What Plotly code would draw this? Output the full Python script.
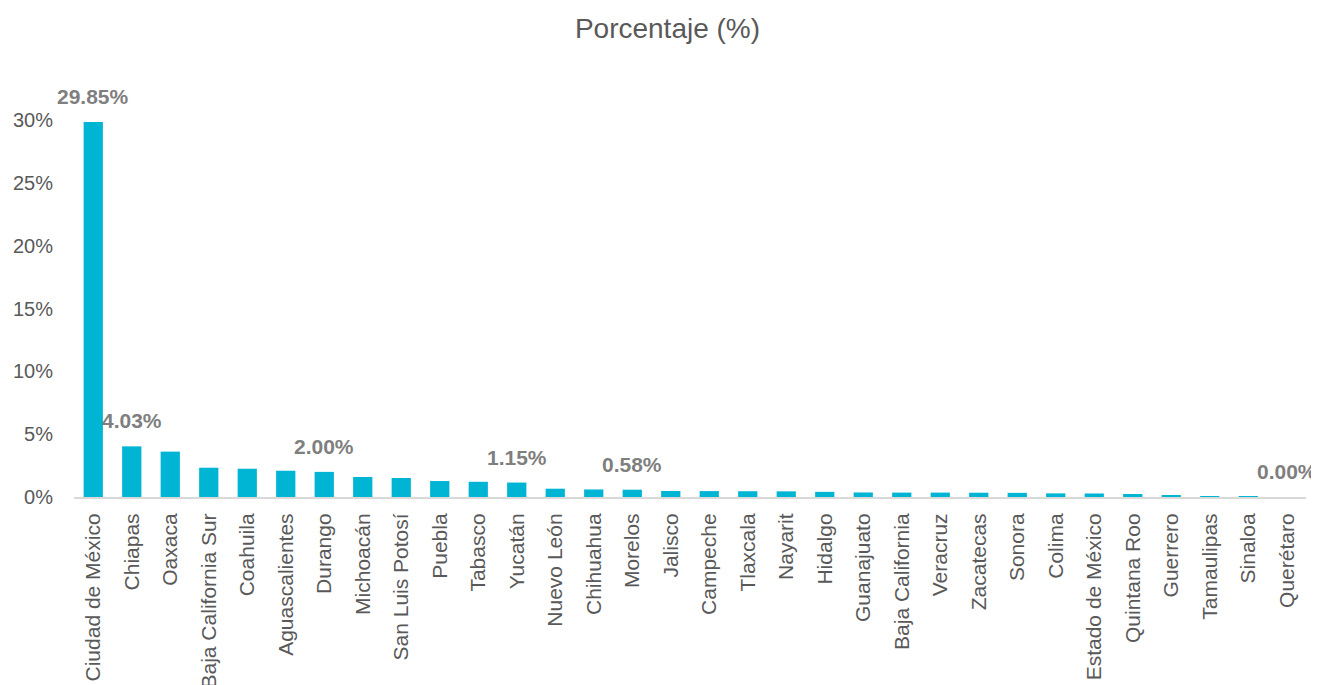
import plotly.graph_objects as go

estados = ["Ciudad de México", "Chiapas", "Oaxaca", "Baja California Sur", "Coahuila",
           "Aguascalientes", "Durango", "Michoacán", "San Luis Potosí", "Puebla",
           "Tabasco", "Yucatán", "Nuevo León", "Chihuahua", "Morelos", "Jalisco",
           "Campeche", "Tlaxcala", "Nayarit", "Hidalgo", "Guanajuato", "Baja California",
           "Veracruz", "Zacatecas", "Sonora", "Colima", "Estado de México", "Quintana Roo",
           "Guerrero", "Tamaulipas", "Sinaloa", "Querétaro"]
porcentaje = [29.85, 4.03, 3.61, 2.33, 2.25, 2.09, 2.00, 1.59, 1.51, 1.27,
              1.21, 1.15, 0.66, 0.60, 0.58, 0.48, 0.47, 0.46, 0.45, 0.41,
              0.36, 0.35, 0.35, 0.34, 0.33, 0.29, 0.28, 0.24, 0.08, 0.04,
              0.03, 0.00]
etiquetados = ["Ciudad de México", "Chiapas", "Durango", "Yucatán", "Morelos", "Querétaro"]
y_ticks = [0, 5, 10, 15, 20, 25, 30]
y_ticklabels = ["0%", "5%", "10%", "15%", "20%", "25%", "30%"]

fig = go.Figure()
fig.add_trace(go.Bar(x=estados, y=porcentaje, marker_color="#00B4D4",
                     marker_line_width=0, hoverinfo="x+y"))

for e, v in zip(estados, porcentaje):
    if e in etiquetados:
        fig.add_annotation(x=e, y=v, text=f"{v:.2f}%", showarrow=False,
                           yanchor="bottom", yshift=12,
                           font=dict(family="Liberation Sans, Arial", size=21,
                                     color="#7F7F7F", weight="bold"))

fig.update_layout(
    width=1319, height=685,
    margin=dict(l=66, r=21, t=112, b=196),
    paper_bgcolor="white", plot_bgcolor="white",
    title=dict(text="Porcentaje (%)", x=0.5, xanchor="center", y=0.971, yanchor="middle",
               yref="container",
               font=dict(family="Liberation Sans, Arial", size=28, color="#595959")),
    bargap=0.5,
    showlegend=False,
    font=dict(family="Liberation Sans, Arial", color="#595959"),
)
fig.update_xaxes(showline=True, linecolor="#D9D9D9", linewidth=2, showgrid=False,
                 range=[-0.5, len(estados) - 0.5], autorange=False,
                 tickangle=-90, tickfont=dict(size=21, color="#595959"),
                 ticks="", ticklen=0, automargin=False, ticklabelstandoff=6)
fig.update_yaxes(range=[0, 30], tickvals=y_ticks, ticktext=y_ticklabels,
                 showgrid=False, zeroline=False, showline=False, automargin=False,
                 tickfont=dict(size=20, color="#595959"), ticks="", ticklabelstandoff=20)

fig.write_html("out.html")
